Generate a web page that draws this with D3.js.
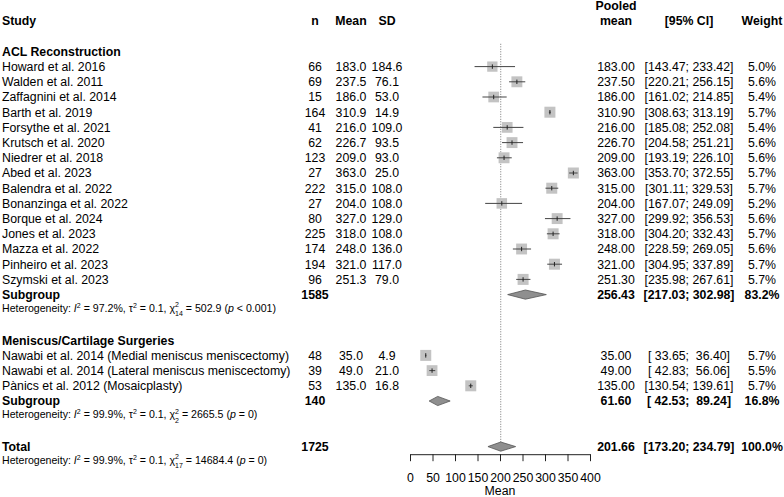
<!DOCTYPE html>
<html>
<head>
<meta charset="utf-8">
<script src="https://cdn.jsdelivr.net/npm/d3@7/dist/d3.min.js"></script>
<style>
  html, body { margin: 0; padding: 0; background: #fff; }
  svg text { font-family: "Liberation Sans", Arial, Helvetica, sans-serif; fill: #000; }
</style>
</head>
<body>
<svg id="chart" width="784" height="497"></svg>
<script>
// ---------- data ----------
const subgroupNames = ["ACL Reconstruction", "Meniscus/Cartilage Surgeries"];
const studies = [
  "Howard et al. 2016", "Walden et al. 2011", "Zaffagnini et al. 2014", "Barth et al. 2019",
  "Forsythe et al. 2021", "Krutsch et al. 2020", "Niedrer et al. 2018", "Abed et al. 2023",
  "Balendra et al. 2022", "Bonanzinga et al. 2022", "Borque et al. 2024", "Jones et al. 2023",
  "Mazza et al. 2022", "Pinheiro et al. 2023", "Szymski et al. 2023",
  "Nawabi et al. 2014 (Medial meniscus meniscectomy)",
  "Nawabi et al. 2014 (Lateral meniscus meniscectomy)",
  "Pànics et al. 2012 (Mosaicplasty)"
];
const studyGroup = [0,0,0,0,0,0,0,0,0,0,0,0,0,0,0,1,1,1];
const nValues    = [66, 69, 15, 164, 41, 62, 123, 27, 222, 27, 80, 225, 174, 194, 96, 48, 39, 53];
const meanValues = [183.0, 237.5, 186.0, 310.9, 216.0, 226.7, 209.0, 363.0, 315.0, 204.0, 327.0, 318.0, 248.0, 321.0, 251.3, 35.0, 49.0, 135.0];
const sdValues   = [184.6, 76.1, 53.0, 14.9, 109.0, 93.5, 93.0, 25.0, 108.0, 108.0, 129.0, 108.0, 136.0, 117.0, 79.0, 4.9, 21.0, 16.8];
const pooledMean = [183.00, 237.50, 186.00, 310.90, 216.00, 226.70, 209.00, 363.00, 315.00, 204.00, 327.00, 318.00, 248.00, 321.00, 251.30, 35.00, 49.00, 135.00];
const ciLower    = [143.47, 220.21, 161.02, 308.63, 185.08, 204.58, 193.19, 353.70, 301.11, 167.07, 299.92, 304.20, 228.59, 304.95, 235.98, 33.65, 42.83, 130.54];
const ciUpper    = [233.42, 256.15, 214.85, 313.19, 252.08, 251.21, 226.10, 372.55, 329.53, 249.09, 356.53, 332.43, 269.05, 337.89, 267.61, 36.40, 56.06, 139.61];
const weights    = [5.0, 5.6, 5.4, 5.7, 5.4, 5.6, 5.6, 5.7, 5.7, 5.2, 5.6, 5.7, 5.6, 5.7, 5.7, 5.7, 5.5, 5.7];

const subgroupN      = [1585, 140];
const subgroupMean   = [256.43, 61.60];
const subgroupLower  = [217.03, 42.53];
const subgroupUpper  = [302.98, 89.24];
const subgroupWeight = [83.2, 16.8];

const totalN = 1725, totalMean = 201.66, totalLower = 173.20, totalUpper = 234.79, totalWeight = 100.0;

// heterogeneity: [subgroup1, subgroup2, total]
const hetI2   = ["97.2", "99.9", "99.9"];
const hetTau2 = ["0.1", "0.1", "0.1"];
const hetDf   = ["14", "2", "17"];
const hetQ    = ["502.9", "2665.5", "14684.4"];
const hetP    = ["< 0.001", "= 0", "= 0"];

const axisTicks = [0, 50, 100, 150, 200, 250, 300, 350, 400];

// ---------- layout ----------
const svg = d3.select("#chart");
const FS = 12.3, HFS = 10.6;
const rowH = 15.2, row0 = 21;
const yRow = i => row0 + i * rowH;
const x = d3.scaleLinear().domain([0, 400]).range([410, 590]);
const col = { study: 2, n: 315, mean: 351, sd: 387, pooled: 616, ci: 689, w: 762 };

// build rows
const rows = [];
let r = 2;
subgroupNames.forEach((name, g) => {
  rows.push({ type: "group", g, idx: r++ });
  studies.forEach((s, i) => { if (studyGroup[i] === g) rows.push({ type: "study", i, idx: r++ }); });
  rows.push({ type: "subgroup", g, idx: r++ });
  rows.push({ type: "het", h: g, idx: r++ });
  r++; // blank
});
rows.push({ type: "total", idx: r++ });
rows.push({ type: "het", h: 2, idx: r++ });
const totalIdx = rows.find(d => d.type === "total").idx;

const f1 = v => v.toFixed(1), f2 = v => v.toFixed(2);
const ciStr = (lo, hi) => `[${f2(lo).padStart(6)}; ${f2(hi).padStart(6)}]`;

function txt(xp, y, s, opts = {}) {
  return svg.append("text")
    .attr("x", xp).attr("y", y).attr("dy", "0.35em")
    .attr("text-anchor", opts.anchor || "middle")
    .style("font-size", (opts.size || FS) + "px")
    .style("font-weight", opts.bold ? "bold" : "normal")
    .style("white-space", "pre")
    .text(s);
}

// headers
txt(col.study, yRow(0), "Study", { anchor: "start", bold: true });
txt(col.n, yRow(0), "n", { bold: true });
txt(col.mean, yRow(0), "Mean", { bold: true });
txt(col.sd, yRow(0), "SD", { bold: true });
txt(col.pooled, yRow(-1), "Pooled", { bold: true });
txt(col.pooled, yRow(0), "mean", { bold: true });
txt(col.ci, yRow(0), "[95% CI]", { bold: true });
txt(col.w, yRow(0), "Weight", { bold: true });

// reference (dotted) line at overall estimate
svg.append("line")
  .attr("x1", x(totalMean)).attr("x2", x(totalMean))
  .attr("y1", yRow(1.5)).attr("y2", yRow(totalIdx))
  .attr("stroke", "#777").attr("stroke-width", 1).attr("stroke-dasharray", "1,1.5");

function diamond(y, est, lo, hi) {
  const hh = 4.6;
  svg.append("path")
    .attr("d", `M${x(lo)},${y} L${x(est)},${y - hh} L${x(hi)},${y} L${x(est)},${y + hh} Z`)
    .attr("fill", "#8f8f8f").attr("stroke", "#555").attr("stroke-width", 0.8);
}

function het(y, h) {
  const t = svg.append("text").attr("x", col.study).attr("y", y).attr("dy", "0.35em")
    .style("font-size", HFS + "px");
  const sm = "7px";
  t.append("tspan").text("Heterogeneity: ");
  t.append("tspan").style("font-style", "italic").text("I");
  t.append("tspan").attr("dy", -4.4).style("font-size", sm).text("2");
  t.append("tspan").attr("dy", 4.4).text(` = ${hetI2[h]}%, τ`);
  t.append("tspan").attr("dy", -4.4).style("font-size", sm).text("2");
  t.append("tspan").attr("dy", 4.4).text(` = ${hetTau2[h]}, χ`);
  t.append("tspan").attr("dy", -4.6).style("font-size", sm).text("2");
  t.append("tspan").attr("dx", -3.9).attr("dy", 8.9).style("font-size", sm).text(hetDf[h]);
  t.append("tspan").attr("dy", -4.3).text(` = ${hetQ[h]} (`);
  t.append("tspan").style("font-style", "italic").text("p");
  t.append("tspan").text(` ${hetP[h]})`);
}

rows.forEach(d => {
  const y = yRow(d.idx);
  if (d.type === "group") {
    txt(col.study, y, subgroupNames[d.g], { anchor: "start", bold: true });
  } else if (d.type === "study") {
    const i = d.i;
    txt(col.study, y, studies[i], { anchor: "start" });
    txt(col.n, y, String(nValues[i]));
    txt(col.mean, y, f1(meanValues[i]));
    txt(col.sd, y, f1(sdValues[i]));
    txt(col.pooled, y, f2(pooledMean[i]));
    txt(col.ci, y, ciStr(ciLower[i], ciUpper[i]));
    txt(col.w, y, f1(weights[i]) + "%");
    const side = 11 * Math.sqrt(weights[i] / 5.7);
    svg.append("rect")
      .attr("x", x(pooledMean[i]) - side / 2).attr("y", y - side / 2)
      .attr("width", side).attr("height", side)
      .attr("fill", "#c3c3c3");
    svg.append("line")
      .attr("x1", x(ciLower[i])).attr("x2", x(ciUpper[i]))
      .attr("y1", y).attr("y2", y)
      .attr("stroke", "#444").attr("stroke-width", 1);
    svg.append("line")
      .attr("x1", x(pooledMean[i])).attr("x2", x(pooledMean[i]))
      .attr("y1", y - 2.2).attr("y2", y + 2.2)
      .attr("stroke", "#222").attr("stroke-width", 1);
  } else if (d.type === "subgroup") {
    const g = d.g;
    txt(col.study, y, "Subgroup", { anchor: "start", bold: true });
    txt(col.n, y, String(subgroupN[g]), { bold: true });
    txt(col.pooled, y, f2(subgroupMean[g]), { bold: true });
    txt(col.ci, y, ciStr(subgroupLower[g], subgroupUpper[g]), { bold: true });
    txt(col.w, y, f1(subgroupWeight[g]) + "%", { bold: true });
    diamond(y, subgroupMean[g], subgroupLower[g], subgroupUpper[g]);
  } else if (d.type === "het") {
    het(y - 1.5, d.h);
  } else if (d.type === "total") {
    txt(col.study, y, "Total", { anchor: "start", bold: true });
    txt(col.n, y, String(totalN), { bold: true });
    txt(col.pooled, y, f2(totalMean), { bold: true });
    txt(col.ci, y, ciStr(totalLower, totalUpper), { bold: true });
    txt(col.w, y, f1(totalWeight) + "%", { bold: true });
    diamond(y, totalMean, totalLower, totalUpper);
  }
});

// axis
const axisY = yRow(totalIdx + 0.5);
const axis = d3.axisBottom(x).tickValues(axisTicks).tickSize(7).tickSizeOuter(0).tickPadding(12)
  .tickFormat(d3.format("d"));
const ax = svg.append("g").attr("transform", `translate(0,${axisY})`).call(axis);
ax.select(".domain").attr("stroke", "#222");
ax.selectAll(".tick line").attr("stroke", "#222");
ax.selectAll(".tick text").style("font-size", FS + "px").style("font-family", "'Liberation Sans', Arial, sans-serif").attr("fill", "#000");
txt(x(200), axisY + 36, "Mean");
</script>
</body>
</html>
